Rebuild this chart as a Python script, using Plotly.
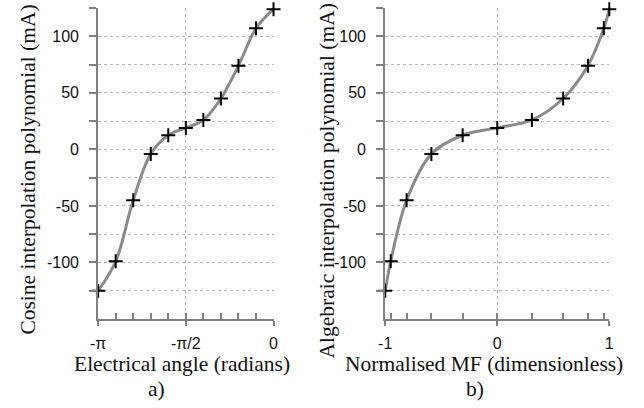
import plotly.graph_objects as go
import math

# ---- data ----
angle_x = [-math.pi + k * math.pi / 10 for k in range(11)]        # electrical angle, radians
mf_x = [-1.0, -0.951, -0.809, -0.588, -0.309, 0.0, 0.309, 0.588, 0.809, 0.951, 1.0]  # normalised MF
current_mA = [-125, -99, -45, -4, 12.5, 19, 26, 45, 74, 107, 124]   # mA

angle_ticks = [-math.pi, -math.pi / 2, 0]
angle_ticktext = ["-π", "-π/2", "0"]
mf_ticks = [-1, 0, 1]
mf_ticktext = ["-1", "0", "1"]
y_ticks = [-125, -100, -75, -50, -25, 0, 25, 50, 75, 100, 125]
y_ticktext = ["", "-100", "", "-50", "", "0", "", "50", "", "100", ""]

W, H = 644, 408
AXC = "#808080"
GRIDC = "#b4b4b4"
CURVE = "#8a8a8a"
TICKFONT = dict(family="Liberation Sans, Arial", size=16, color="#111")
SERIF = "Liberation Serif, Times New Roman"

fig = go.Figure()

for xs, xa, ya in [(angle_x, "x", "y"), (mf_x, "x2", "y2")]:
    fig.add_trace(go.Scatter(x=xs, y=current_mA, xaxis=xa, yaxis=ya, mode="lines",
                             line=dict(color=CURVE, width=3, shape="spline"),
                             hoverinfo="skip", showlegend=False, cliponaxis=False))
    fig.add_trace(go.Scatter(x=xs, y=current_mA, xaxis=xa, yaxis=ya, mode="markers",
                             marker=dict(symbol="cross-thin", size=10,
                                         line=dict(color="black", width=2)),
                             showlegend=False, cliponaxis=False))
# invisible traces for the inside minor-tick axes
fig.add_trace(go.Scatter(x=[angle_x[0]], y=[0], xaxis="x3", yaxis="y", mode="markers",
                         marker=dict(opacity=0), hoverinfo="skip", showlegend=False))
fig.add_trace(go.Scatter(x=[mf_x[0]], y=[0], xaxis="x4", yaxis="y2", mode="markers",
                         marker=dict(opacity=0), hoverinfo="skip", showlegend=False))

ydom = [1 - 319 / H, 1 - 8 / H]
xdom1 = [92 / W, 271 / W]
xdom2 = [385 / W, 613.7 / W]

def yaxis(anchor):
    return dict(domain=ydom, anchor=anchor, range=[-150, 125], tickvals=y_ticks,
                ticktext=y_ticktext, ticks="outside", ticklen=7, tickwidth=2,
                tickcolor=AXC, showline=True, linecolor=AXC, linewidth=2,
                showgrid=True, gridcolor=GRIDC, griddash="dot", gridwidth=1,
                zeroline=False, tickfont=TICKFONT, ticklabelstandoff=7, fixedrange=True)

def xaxis(dom, anchor, rng, tv, tt):
    return dict(domain=dom, anchor=anchor, range=rng, tickvals=tv, ticktext=tt,
                ticks="outside", ticklen=5, tickwidth=2, tickcolor=AXC,
                showline=True, linecolor=AXC, linewidth=2,
                showgrid=True, gridcolor=GRIDC, griddash="dot", gridwidth=1,
                zeroline=False, tickfont=TICKFONT, ticklabelstandoff=4, fixedrange=True)

def minor_axis(over, anchor, rng, tv):
    return dict(overlaying=over, anchor=anchor, side="bottom", range=rng, tickvals=tv,
                ticks="inside", ticklen=6, tickwidth=2, tickcolor=AXC,
                showticklabels=False, showgrid=False, showline=False, zeroline=False,
                fixedrange=True)

fig.update_layout(
    width=W, height=H, margin=dict(l=0, r=0, t=0, b=0),
    paper_bgcolor="white", plot_bgcolor="white", hovermode=False,
    xaxis=xaxis(xdom1, "y", [-math.pi, 0], angle_ticks, angle_ticktext),
    yaxis=yaxis("x"),
    xaxis2=xaxis(xdom2, "y2", [-1, 1], mf_ticks, mf_ticktext),
    yaxis2=yaxis("x2"),
    xaxis3=minor_axis("x", "y", [-math.pi, 0], angle_x),
    xaxis4=minor_axis("x2", "y2", [-1, 1], mf_x),
)

def ann(text, x, y, angle=0):
    fig.add_annotation(text=text, x=x / W, y=1 - y / H, xref="paper", yref="paper",
                       showarrow=False, textangle=angle, xanchor="center", yanchor="middle",
                       font=dict(family=SERIF, size=21.5, color="#111"))

ann("Electrical angle (radians)", 178, 364)
ann("Normalised MF (dimensionless)", 486, 364)
ann("a)", 152, 389)
ann("b)", 477, 389)
ann("Cosine interpolation polynomial (mA)", 20, 170, -90)
ann("Algebraic interpolation polynomial (mA)", 326, 181, -90)

fig.write_html("out.html", config={"displayModeBar": False, "staticPlot": True},
               post_script="document.body.style.margin='0px';")
